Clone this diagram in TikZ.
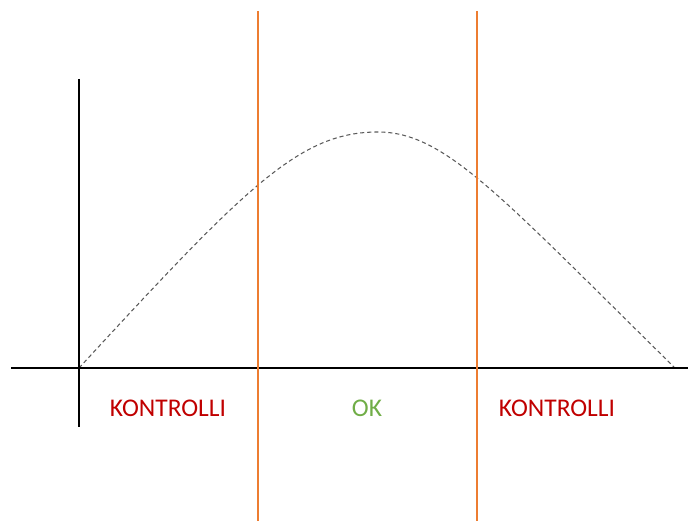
\documentclass[tikz,border=0pt]{standalone}
\usepackage{fontspec}
\setmainfont{Carlito}
\usepackage{xcolor}
\usepackage{tikz}
\definecolor{KRed}{HTML}{C00000}
\definecolor{KGreen}{HTML}{70AD47}
\definecolor{KOrange}{HTML}{ED7D31}
\definecolor{KGrey}{HTML}{595959}

\begin{document}
\begin{tikzpicture}[x=1cm,y=1cm]
\path[use as bounding box] (0,0) rectangle (13.78,10.42);
\coordinate (xl) at (0.22,3.06);
\coordinate (xr) at (13.76,3.06);
\coordinate (yt) at (1.58,8.84);
\coordinate (yb) at (1.58,1.88);
\coordinate (l1t) at (5.16,10.20);
\coordinate (l1b) at (5.16,0);
\coordinate (l2t) at (9.54,10.20);
\coordinate (l2b) at (9.54,0);
\coordinate (c0) at (1.58,3.06);
\coordinate (cp) at (7.56,7.78);
\coordinate (c1) at (13.50,3.06);
\draw[KGrey,line width=0.6pt,dash pattern=on 2.3pt off 1.7pt] (c0) .. controls (4.95,6.72) and (6.00,7.78) .. (cp) .. controls (8.90,7.78) and (10.00,6.50) .. (c1);
\draw[black,line width=1.1pt] (xl) -- (xr);
\draw[black,line width=1.1pt] (yt) -- (yb);
\draw[KOrange,line width=1.1pt] (l1t) -- (l1b);
\draw[KOrange,line width=1.1pt] (l2t) -- (l2b);
\node[text=KRed] (left) at (3.36,2.26) {\fontsize{14.5}{17}\selectfont KONTROLLI};
\node[text=KGreen] (mid) at (7.34,2.26) {\fontsize{14.5}{17}\selectfont OK};
\node[text=KRed] (right) at (11.14,2.26) {\fontsize{14.5}{17}\selectfont KONTROLLI};
\end{tikzpicture}
\end{document}
